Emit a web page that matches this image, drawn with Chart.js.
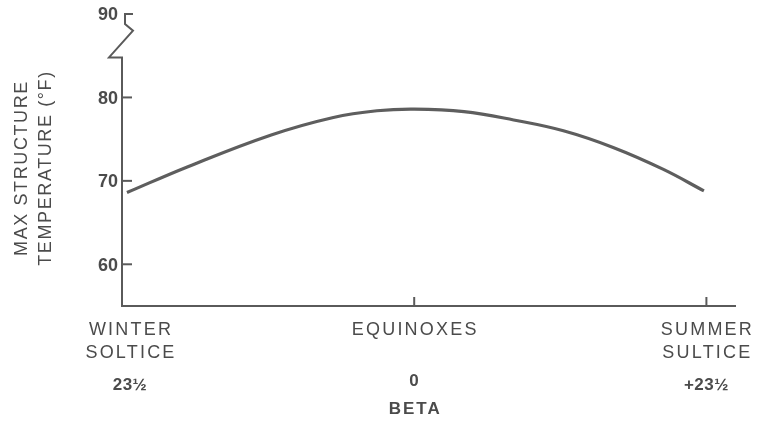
<!DOCTYPE html>
<html>
<head>
<meta charset="utf-8">
<script src="https://cdn.jsdelivr.net/npm/chart.js@4/dist/chart.umd.min.js"></script>
<style>
  html, body { margin: 0; padding: 0; background: #ffffff; }
  #wrap { width: 759px; height: 421px; }
</style>
</head>
<body>
<div id="wrap"><canvas id="c" width="759" height="421"></canvas></div>
<script>
// Sun angle (beta, degrees) across the year and the peak structure temperature
const betaTicks = [-23.5, 0, 23.5];
const seasonLabels = [['WINTER', 'SOLTICE'], ['EQUINOXES'], ['SUMMER', 'SULTICE']];
const betaLabels = ['23½', '0', '+23½'];
const tempTicks = [60, 70, 80, 90];

const beta    = [-23.1, -18.2, -11.5, -6.5, -3.0, 0,    4.0,  8.0,  12.0, 16.0, 20.0, 23.3];
const maxTemp = [68.6,  71.7,  75.5,  77.6, 78.4, 78.6, 78.3, 77.3, 76.0, 74.0, 71.4, 68.8];

const INK = '#4b4b4b';
const AXIS = '#5a5a5a';
const FONT = "'Liberation Sans', Arial, sans-serif";

// Hand-drawn style axes: y axis with a break below 90, inward tick marks, and all labels
const axesPlugin = {
  id: 'engineeringAxes',
  beforeDatasetsDraw(chart) {
    const { ctx, chartArea: a, scales: { x, y } } = chart;
    const x0 = x.getPixelForValue(x.min);
    const yb = y.getPixelForValue(y.min);
    ctx.save();
    ctx.strokeStyle = AXIS;
    ctx.lineWidth = 2;
    ctx.lineCap = 'square';
    ctx.lineJoin = 'miter';

    // x axis
    ctx.beginPath();
    ctx.moveTo(x0, yb);
    ctx.lineTo(a.right, yb);
    ctx.stroke();

    // y axis with break symbol
    const yBreakLow = y.getPixelForValue(84.8);
    const yBreakMid = y.getPixelForValue(88.0);
    const yBreakTop = y.getPixelForValue(88.8);
    const yTop = y.getPixelForValue(90);
    ctx.beginPath();
    ctx.moveTo(x0, yb);
    ctx.lineTo(x0, yBreakLow);
    ctx.lineTo(x0 - 13, yBreakLow);
    ctx.lineTo(x0 + 11, yBreakMid);
    ctx.lineTo(x0 + 3, yBreakTop);
    ctx.lineTo(x0 + 3, yTop);
    ctx.lineTo(x0 + 10, yTop);
    ctx.stroke();

    // y tick marks pointing inward
    tempTicks.forEach(v => {
      if (v >= 85) return;
      const py = y.getPixelForValue(v);
      ctx.beginPath();
      ctx.moveTo(x0, py);
      ctx.lineTo(x0 + 9, py);
      ctx.stroke();
    });

    // x tick marks pointing up
    betaTicks.forEach(v => {
      if (v <= x.min) return;
      const px = x.getPixelForValue(v);
      ctx.beginPath();
      ctx.moveTo(px, yb);
      ctx.lineTo(px, yb - 8);
      ctx.stroke();
    });
    ctx.restore();
  },
  afterDraw(chart) {
    const { ctx, scales: { x, y } } = chart;
    const x0 = x.getPixelForValue(x.min);
    const yb = y.getPixelForValue(y.min);
    ctx.save();
    ctx.fillStyle = INK;

    // y tick labels
    ctx.font = 'bold 18px ' + FONT;
    ctx.textAlign = 'right';
    ctx.textBaseline = 'middle';
    ctx.letterSpacing = '0px';
    tempTicks.forEach(v => {
      ctx.fillText(String(v), x0 - 4, y.getPixelForValue(v) + 1.5);
    });

    // season labels and beta values under the x axis
    ctx.textAlign = 'center';
    ctx.textBaseline = 'alphabetic';
    betaTicks.forEach((v, i) => {
      let px = x.getPixelForValue(v);
      if (i === 0) px += 8;
      ctx.font = '18px ' + FONT;
      ctx.letterSpacing = '2.2px';
      seasonLabels[i].forEach((line, j) => {
        ctx.fillText(line, px + 1, yb + 29 + j * 23);
      });
      ctx.font = 'bold 17px ' + FONT;
      ctx.letterSpacing = '0.5px';
      const dy = i === 1 ? 80 : 84;
      ctx.fillText(betaLabels[i], px, yb + dy);
    });

    // x axis title
    ctx.font = 'bold 17px ' + FONT;
    ctx.letterSpacing = '2px';
    ctx.fillText('BETA', x.getPixelForValue(0) + 1, yb + 108);

    // y axis title, two rotated lines
    ctx.translate(0, 168);
    ctx.rotate(-Math.PI / 2);
    ctx.font = '18px ' + FONT;
    ctx.letterSpacing = '1.6px';
    ctx.textBaseline = 'alphabetic';
    ctx.fillText('MAX STRUCTURE', 0, 27);
    ctx.fillText('TEMPERATURE (°F)', 0, 51);
    ctx.restore();
  }
};

new Chart(document.getElementById('c'), {
  type: 'line',
  data: {
    datasets: [{
      data: beta.map((b, i) => ({ x: b, y: maxTemp[i] })),
      borderColor: '#5e5e5e',
      borderWidth: 3.2,
      pointRadius: 0,
      tension: 0.4,
      fill: false
    }]
  },
  options: {
    responsive: false,
    animation: false,
    devicePixelRatio: 1,
    layout: { padding: { left: 122, right: 24, top: 14, bottom: 115 } },
    plugins: { legend: { display: false }, tooltip: { enabled: false } },
    scales: {
      x: { type: 'linear', min: -23.5, max: 25.8, display: false },
      y: { type: 'linear', min: 55, max: 90, display: false }
    }
  },
  plugins: [axesPlugin]
});
</script>
</body>
</html>
